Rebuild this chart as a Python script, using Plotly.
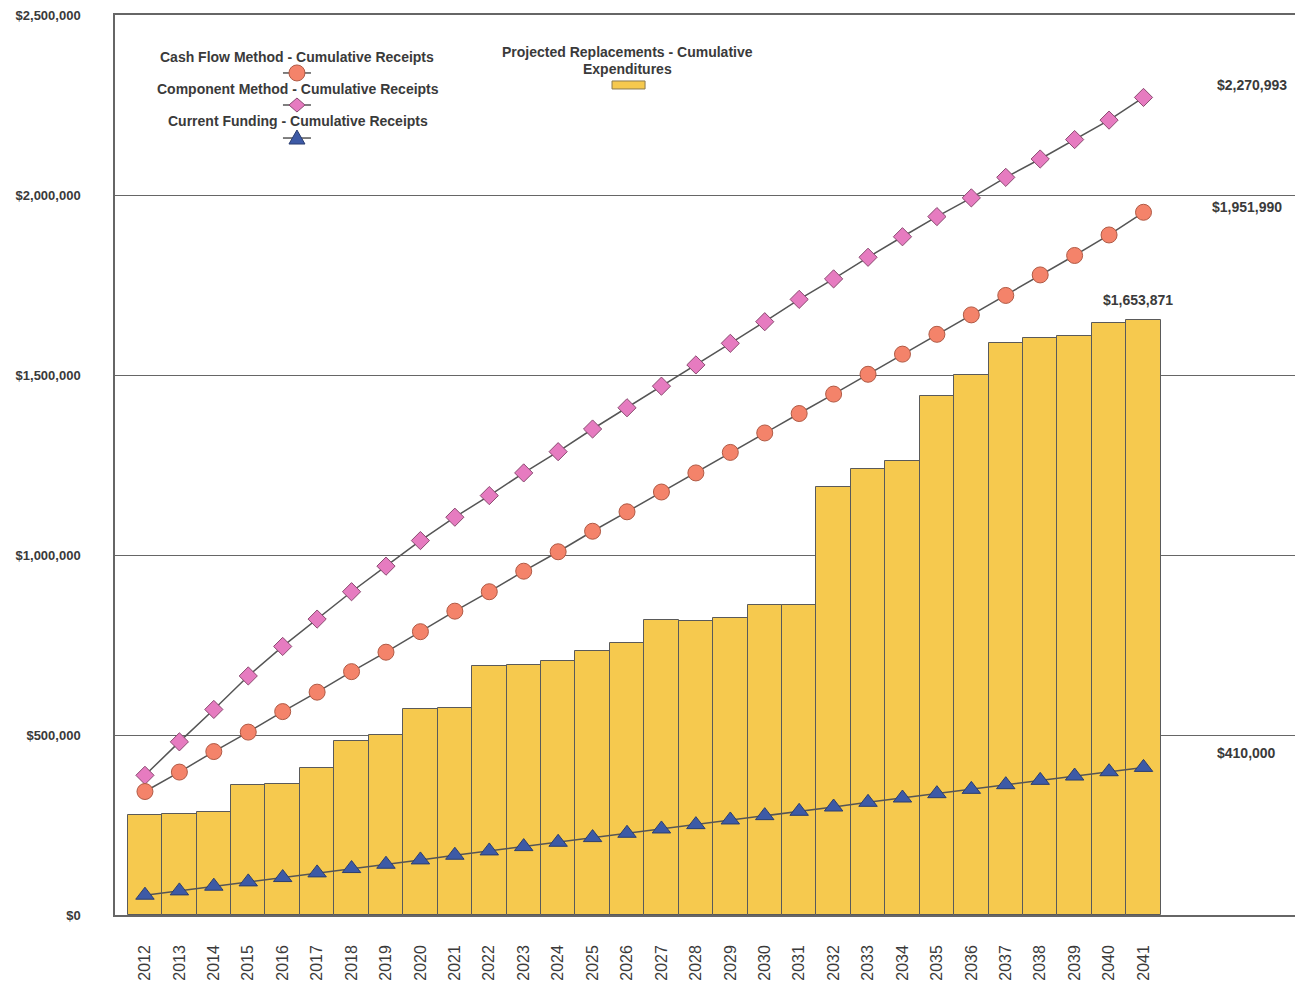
import plotly.graph_objects as go

years = list(range(2012, 2042))

expenditures = [279000, 281000, 285000, 361000, 363000, 408000, 484000, 500000, 573000, 575000,
                693000, 694000, 706000, 733000, 756000, 819000, 817000, 824000, 862000, 860000,
                1189000, 1238000, 1261000, 1443000, 1500000, 1588000, 1603000, 1607000, 1644000, 1653871]

cash_flow = [343000, 397000, 454000, 508000, 565000, 619000, 676000, 730000, 787000, 844000,
             898000, 955000, 1009000, 1066000, 1120000, 1175000, 1228000, 1285000, 1339000, 1393000,
             1447000, 1502000, 1558000, 1613000, 1667000, 1721000, 1778000, 1832000, 1889000, 1951990]

component = [388000, 481000, 571000, 664000, 746000, 822000, 898000, 969000, 1040000, 1105000,
             1165000, 1228000, 1287000, 1350000, 1409000, 1469000, 1528000, 1588000, 1648000, 1710000,
             1767000, 1827000, 1884000, 1940000, 1992000, 2049000, 2100000, 2154000, 2208000, 2270993]

current = [55000, 67000, 80000, 92000, 104000, 117000, 129000, 141000, 153000, 166000,
           178000, 190000, 202000, 215000, 227000, 239000, 251000, 264000, 276000, 288000,
           300000, 313000, 325000, 337000, 349000, 362000, 374000, 386000, 398000, 410000]

y_ticks = [0, 500000, 1000000, 1500000, 2000000, 2500000]
y_ticktext = ["$0", "$500,000", "$1,000,000", "$1,500,000", "$2,000,000", "$2,500,000"]

BAR = "#F6C94E"
CIRC = "#F4836A"
DIAM = "#E67BC0"
TRI = "#3D5AA6"
LINE = "#555555"
TXT = "#3a3a3a"
FONT = "Liberation Sans"

fig = go.Figure()
fig.add_trace(go.Bar(x=years, y=expenditures, width=1.0,
                     marker=dict(color=BAR, line=dict(color="#5a5a5a", width=1)),
                     name="Projected Replacements - Cumulative Expenditures"))
fig.add_trace(go.Scatter(x=years, y=component, mode="lines+markers",
                         line=dict(color=LINE, width=1.5),
                         marker=dict(symbol="diamond", size=14, color=DIAM, line=dict(color="#8a4a70", width=1)),
                         name="Component Method - Cumulative Receipts"))
fig.add_trace(go.Scatter(x=years, y=cash_flow, mode="lines+markers",
                         line=dict(color=LINE, width=1.5),
                         marker=dict(symbol="circle", size=16, color=CIRC, line=dict(color="#b05a45", width=1)),
                         name="Cash Flow Method - Cumulative Receipts"))
fig.add_trace(go.Scatter(x=years, y=current, mode="lines+markers",
                         line=dict(color=LINE, width=1.5),
                         marker=dict(symbol="triangle-up", size=16, color=TRI, line=dict(color="#2a3d70", width=1)),
                         name="Current Funding - Cumulative Receipts"))

val_font = dict(size=14, color=TXT, family=FONT, weight="bold")
annotations = [
    dict(x=2044.15, y=component[-1], xref="x", yref="y", text=f"${component[-1]:,}", showarrow=False,
         yshift=12, font=val_font),
    dict(x=2044.0, y=cash_flow[-1], xref="x", yref="y", text=f"${cash_flow[-1]:,}", showarrow=False,
         yshift=5, font=val_font),
    dict(x=years[-1], y=expenditures[-1], xref="x", yref="y", text=f"${expenditures[-1]:,}", showarrow=False,
         yanchor="bottom", yshift=10, xshift=-6, font=val_font),
    dict(x=2044.0, y=current[-1], xref="x", yref="y", text=f"${current[-1]:,}", showarrow=False,
         yshift=14, font=val_font),
]

leg_font = dict(size=14, color=TXT, family=FONT, weight="bold")
legend_text = [
    (0.1542, 0.9533, "Cash Flow Method - Cumulative Receipts"),
    (0.1551, 0.9178, "Component Method - Cumulative Receipts"),
    (0.1551, 0.8822, "Current Funding - Cumulative Receipts"),
    (0.4347, 0.9589, "Projected Replacements - Cumulative"),
    (0.4347, 0.9400, "Expenditures"),
]
for lx, ly, t in legend_text:
    annotations.append(dict(x=lx, y=ly, xref="paper", yref="paper", text=t, showarrow=False,
                            xanchor="center", yanchor="middle", font=leg_font))

shapes = []
def key_line(xa, ya):
    shapes.append(dict(type="line", xref="paper", yref="paper", xsizemode="pixel", ysizemode="pixel",
                       xanchor=xa, yanchor=ya, x0=-14, x1=14, y0=0, y1=0,
                       line=dict(color=LINE, width=1.5)))

key_line(0.1542, 0.9356)
shapes.append(dict(type="circle", xref="paper", yref="paper", xsizemode="pixel", ysizemode="pixel",
                   xanchor=0.1542, yanchor=0.9356, x0=-8, x1=8, y0=-8, y1=8,
                   fillcolor=CIRC, line=dict(color="#b05a45", width=1)))
key_line(0.1542, 0.9000)
shapes.append(dict(type="path", xref="paper", yref="paper", xsizemode="pixel", ysizemode="pixel",
                   xanchor=0.1542, yanchor=0.9000, path="M -8,0 L 0,7 L 8,0 L 0,-7 Z",
                   fillcolor=DIAM, line=dict(color="#8a4a70", width=1)))
key_line(0.1542, 0.8633)
shapes.append(dict(type="path", xref="paper", yref="paper", xsizemode="pixel", ysizemode="pixel",
                   xanchor=0.1542, yanchor=0.8633, path="M -8,-6 L 8,-6 L 0,8 Z",
                   fillcolor=TRI, line=dict(color="#2a3d70", width=1)))
shapes.append(dict(type="rect", xref="paper", yref="paper", x0=0.4212, x1=0.4492, y0=0.9178, y1=0.9267,
                   fillcolor=BAR, line=dict(color="#8a7a50", width=1)))

fig.update_layout(
    width=1302, height=989,
    margin=dict(l=115, r=7, t=15, b=74),
    paper_bgcolor="white", plot_bgcolor="white",
    showlegend=False,
    bargap=0,
    annotations=annotations,
    shapes=shapes,
    font=dict(family=FONT, color=TXT),
)
fig.update_xaxes(range=[2011.13, 2045.4], tickmode="array", tickvals=years,
                 ticktext=[str(y) for y in years], tickangle=-90,
                 tickfont=dict(size=16, color=TXT, family=FONT),
                 showgrid=False, showline=True, mirror=True, linecolor="#666666", linewidth=1.5,
                 ticks="", ticklabelstandoff=22, zeroline=False)
fig.update_yaxes(range=[0, 2500000], tickmode="array", tickvals=y_ticks, ticktext=y_ticktext,
                 tickfont=dict(size=13, color=TXT, family=FONT, weight="bold"),
                 showgrid=True, gridcolor="#666666", gridwidth=1,
                 showline=True, linecolor="#666666", linewidth=1.5,
                 ticks="", ticklabelstandoff=30, zeroline=False)

fig.write_html("out.html")
